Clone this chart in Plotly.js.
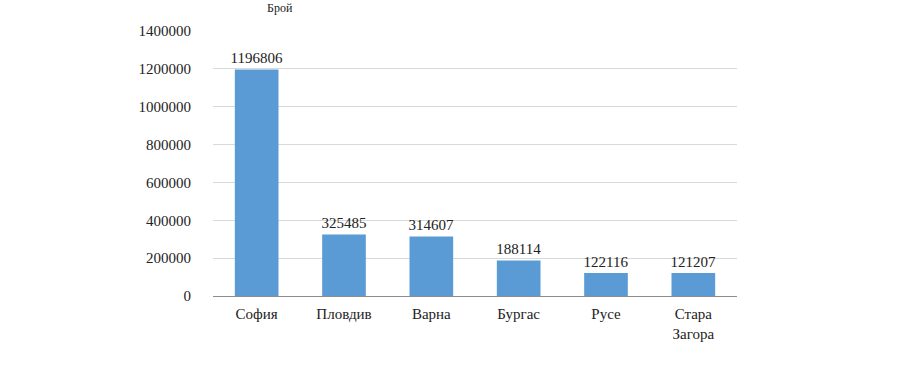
<!DOCTYPE html>
<html><head><meta charset="utf-8">
<script src="https://cdn.plot.ly/plotly-3.0.1.min.js"></script>
<style>html,body{margin:0;padding:0;background:#fff}</style>
</head><body><div id="chart" style="width:905px;height:369px"></div>
<script>
const categories = ["София", "Пловдив", "Варна", "Бургас", "Русе", "Стара<br>Загора"];
const values = [1196806, 325485, 314607, 188114, 122116, 121207];
const yTicks = [0, 200000, 400000, 600000, 800000, 1000000, 1200000, 1400000];
const yTitle = "Брой";

const font = "'Liberation Serif', 'Times New Roman', serif";
Plotly.newPlot("chart", [{
  type: "bar",
  x: categories,
  y: values,
  marker: {color: "#5B9BD5"},
  width: 0.5,
  text: values.map(String),
  textposition: "outside",
  constraintext: "none",
  cliponaxis: false,
  textfont: {family: font, size: 15, color: "#222"},
  hoverinfo: "none"
}], {
  width: 905, height: 369,
  margin: {l: 213, r: 168, t: 31, b: 73},
  paper_bgcolor: "#fff", plot_bgcolor: "#fff",
  showlegend: false,
  font: {family: font, color: "#222"},
  xaxis: {
    type: "category",
    showgrid: false,
    showline: true, linecolor: "#8c8c8c", linewidth: 1.3,
    ticks: "outside", ticklen: 4, tickcolor: "rgba(0,0,0,0)",
    tickfont: {family: font, size: 15, color: "#222"}
  },
  yaxis: {
    range: [0, 1400000],
    tickvals: yTicks,
    ticktext: yTicks.map(String),
    showgrid: true, gridcolor: "#d9d9d9", gridwidth: 1,
    zeroline: false, showline: false,
    ticks: "outside", ticklen: 18, tickcolor: "rgba(0,0,0,0)",
    tickfont: {family: font, size: 15, color: "#222"}
  },
  annotations: [{
    text: yTitle, xref: "paper", yref: "paper",
    x: 0.1, y: 1.12, showarrow: false,
    font: {family: font, size: 12, color: "#222"}
  }],
  bargap: 0.5
}, {displayModeBar: false, staticPlot: true});
</script></body></html>
